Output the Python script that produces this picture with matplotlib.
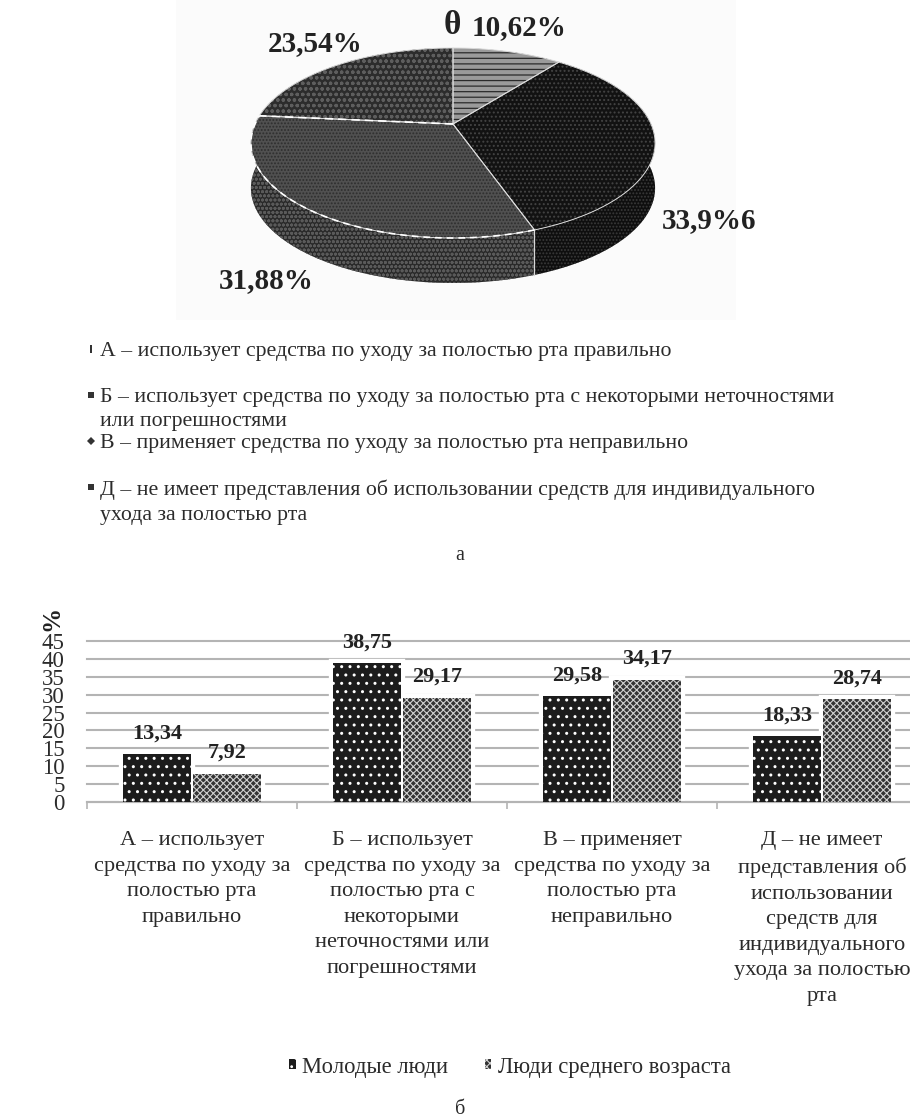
import numpy as np
import matplotlib
matplotlib.use("Agg")
import matplotlib.pyplot as plt
from matplotlib.patches import Polygon, Rectangle

plt.rcParams['font.family'] = ['Liberation Serif', 'DejaVu Serif']

# pie data
pie_values = [10.62, 33.96, 31.88, 23.54]
pie_labels = ["10,62%", "33,9%6", "31,88%", "23,54%"]
pie_colors = ['#9a9a9a', '#121212', '#505050', '#2c2c2c']
side_colors = ['#707070', '#0e0e0e', '#2a2a2a', '#242424']
pie_hatch_colors = ['#2a2a2a', '#444444', '#2e2e2e', '#5e5e5e']
pie_hatches = ['---', '....', '.....', 'ooo']
side_hatches = ['---', '.....', 'oooo', 'ooo']
side_hatch_colors = ['#2a2a2a', '#3a3a3a', '#5a5a5a', '#5e5e5e']

legend_a = [
    "А – использует средства по уходу за полостью рта правильно",
    "Б – использует средства по уходу за полостью рта с некоторыми неточностями\nили погрешностями",
    "В – применяет средства по уходу за полостью рта неправильно",
    "Д – не имеет представления об использовании средств для индивидуального\nухода за полостью рта",
]

# bar data
categories = [
    "А – использует\nсредства по уходу за\nполостью рта\nправильно",
    "Б – использует\nсредства по уходу за\nполостью рта с\nнекоторыми\nнеточностями или\nпогрешностями",
    "В – применяет\nсредства по уходу за\nполостью рта\nнеправильно",
    "Д – не имеет\nпредставления об\nиспользовании\nсредств для\nиндивидуального\nухода за полостью\nрта",
]
young = [13.34, 38.75, 29.58, 18.33]
middle = [7.92, 29.17, 34.17, 28.74]
series_names = ["Молодые люди", "Люди среднего возраста"]

W, H = 910, 1120
TEXT = '#2b2b2b'

fig = plt.figure(figsize=(W / 100, H / 100), dpi=100)

# overlay in pixel coordinates for the pie and the captions
bg = fig.add_axes([0, 0, 1, 1])
bg.set_xlim(0, W)
bg.set_ylim(H, 0)
bg.axis('off')
bg.add_patch(Rectangle((176, 0), 560, 320, facecolor='#fbfbfb', edgecolor='none', zorder=0))

CX, CY = 453, 124
A, B, K = 198, 91.2, 0.2
DEPTH = 45


def project(theta):
    # circle seen in perspective, theta is clockwise from the top
    x = np.sin(theta)
    y = np.cos(theta)
    d = 1 + K * y
    return CX + A * x / d, CY - B * y / d


plt.rcParams['hatch.linewidth'] = 0.9
total = sum(pie_values)
start = 0.0
slices = []
for v in pie_values:
    end = start + v / total * 2 * np.pi
    slices.append((start, end))
    start = end

for i, (t0, t1) in enumerate(slices):
    th = np.linspace(t0, t1, 120)
    px, py = project(th)
    top = np.column_stack([px, py])
    low = np.column_stack([px, py + DEPTH])[::-1]
    bg.add_patch(Polygon(np.vstack([top, low]), closed=True, facecolor=side_colors[i],
                         edgecolor=side_hatch_colors[i], hatch=side_hatches[i], lw=0, zorder=1))

for i, (t0, t1) in enumerate(slices):
    th = np.linspace(t0, t1, 120)
    px, py = project(th)
    pts = np.vstack([[CX, CY], np.column_stack([px, py])])
    bg.add_patch(Polygon(pts, closed=True, facecolor=pie_colors[i],
                         edgecolor=pie_hatch_colors[i], hatch=pie_hatches[i], lw=0, zorder=2))
    bg.add_patch(Polygon(pts, closed=True, fill=False, edgecolor='#dcdcdc', lw=0.7, zorder=3))

# dashed white rim of the third slice and the edge on the side wall
th = np.linspace(slices[2][0], slices[2][1], 120)
px, py = project(th)
bg.plot(px, py, color='white', lw=1.2, ls=(0, (4, 3)), zorder=4)
ex, ey = project(slices[2][1])
bg.plot([CX, ex], [CY, ey], color='white', lw=1.2, ls=(0, (5, 3)), zorder=4)
ex, ey = project(slices[1][1])
bg.plot([ex, ex], [ey, ey + DEPTH], color='#d8d8d8', lw=0.9, zorder=3)

label_pos = [(519, 28), (709, 221), (266, 281), (315, 44)]
for lab, (x, y) in zip(pie_labels, label_pos):
    bg.text(x, y, lab, fontsize=21, fontweight='bold', color='#222222', ha='center', va='center')
bg.text(452, 26, "θ", fontsize=24, fontweight='bold', color='#222222', ha='center', va='center')

legend_y = [350, 396, 442, 488]
legend_markers = ['$\\mathrm{I}$', 's', 'D', 's']
legend_ms = [6, 4, 4, 4]
for txt, y, m, ms in zip(legend_a, legend_y, legend_markers, legend_ms):
    bg.text(100, y - 8, txt, fontsize=15.7, color=TEXT, ha='left', va='top', linespacing=1.39)
    bg.plot([91], [y - 1], marker=m, ms=ms, color='#333333', mew=0, zorder=3)

bg.text(460, 555, "а", fontsize=14.5, color=TEXT, ha='center', va='center')
bg.text(460, 1110, "б", fontsize=14.5, color=TEXT, ha='center', va='center')

# bar chart
ax = fig.add_axes([87 / W, 1 - 802 / H, (W - 87) / W, 161 / H])
ax.patch.set_alpha(0)
pos = np.arange(len(categories))
bw = 0.32
off = 0.167
plt.rcParams['hatch.linewidth'] = 1.0
# white halo that breaks the grid around the bars
ax.bar(pos - off, young, bw, color='white', edgecolor='white', lw=6, zorder=2)
ax.bar(pos + off, middle, bw, color='white', edgecolor='white', lw=6, zorder=2)
b1 = ax.bar(pos - off, young, bw, color='#1c1c1c', edgecolor='white', hatch='..', lw=0,
            label=series_names[0], zorder=3)
plt.rcParams['hatch.linewidth'] = 0.8
b2 = ax.bar(pos + off, middle, bw, color='#333333', edgecolor='#d0d0d0', hatch='xxxxx', lw=0,
            label=series_names[1], zorder=3)

for bars, vals in ((b1, young), (b2, middle)):
    for r, v in zip(bars, vals):
        ax.annotate(f"{v:.2f}".replace('.', ','), (r.get_x() + r.get_width() / 2, v),
                    textcoords="offset points", xytext=(0, 15), ha='center', va='center',
                    fontsize=16, fontweight='bold', color='#222222', zorder=4)

ax.set_ylim(0, 45)
ax.set_yticks(np.arange(0, 50, 5))
ax.tick_params(axis='y', length=0, labelsize=16.5, labelcolor=TEXT, pad=16)
ax.grid(axis='y', color='#b4b4b4', lw=1.5, zorder=1)
ax.set_axisbelow(True)
for gl in ax.yaxis.get_gridlines():
    gl.set_clip_on(False)
ax.set_xticks(pos)
ax.set_xticklabels(categories, fontsize=16.1, color=TEXT, linespacing=1.47)
ax.set_xticks(np.arange(-0.5, 3.6, 1), minor=True)
ax.set_xlim(-0.5, (W - 87) / 210 - 0.5)
ax.tick_params(axis='x', which='major', length=0, pad=21)
ax.tick_params(axis='x', which='minor', length=5, color='#b4b4b4', width=1.2)
for s in ['top', 'left', 'right']:
    ax.spines[s].set_visible(False)
ax.spines['bottom'].set_color('#b4b4b4')
ax.spines['bottom'].set_linewidth(1.5)

bg.text(52, 618, "%", fontsize=18, fontweight='bold', color='#222222', rotation=90, ha='center', va='center')

fig.legend(handles=[b1, b2], labels=series_names, loc='center', bbox_to_anchor=(510 / W, 1 - 1067 / H),
           ncol=2, frameon=False, fontsize=16.3, labelcolor=TEXT, handlelength=0.3, handleheight=0.3,
           columnspacing=1.6, handletextpad=0.3)

fig.savefig("out.png", dpi=100)
